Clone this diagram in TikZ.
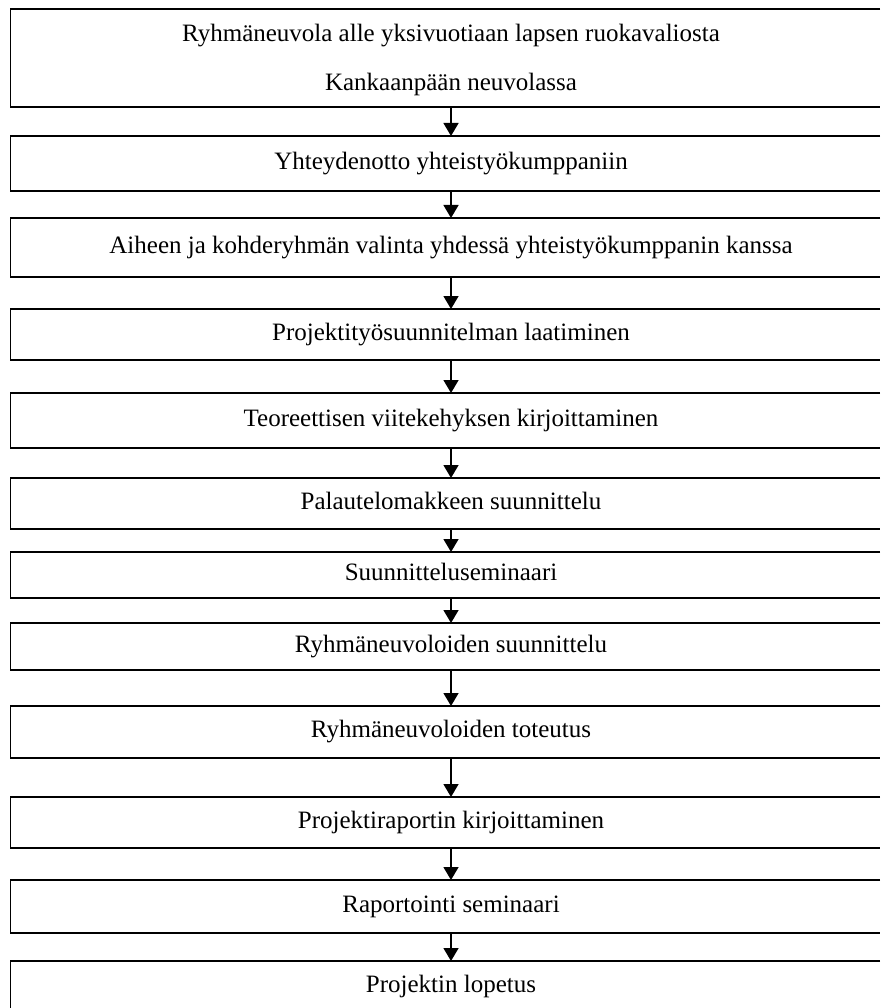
\documentclass[tikz,border=0pt]{standalone}
\usepackage{fontspec}
\setmainfont{Liberation Serif}
\usetikzlibrary{arrows.meta}
\begin{document}
\begin{tikzpicture}[x=1pt,y=-1pt,
  txt/.style={inner sep=0pt, outer sep=0pt, text height=16.5pt, text depth=5pt, font=\fontsize{25}{30}\selectfont},
  box/.style={txt, minimum width=881pt},
  edge/.style={draw=black, line width=1.5pt, line join=miter},
  arr/.style={line width=1.5pt, -{Triangle[length=13pt,width=15pt]}}]
\useasboundingbox (0,0) rectangle (880,1008);
\clip (0,0) rectangle (880,1008);
\coordinate (R) at (880,0);
\node[box, minimum height=98pt] (b1) at (451,58) {};
\node[txt] (t1a) at (451,36) {Ryhmäneuvola alle yksivuotiaan lapsen ruokavaliosta};
\node[txt] (t1b) at (451,84.5) {Kankaanpään neuvolassa};
\node[box, minimum height=55pt] (b2) at (451,163.5) {Yhteydenotto yhteistyökumppaniin};
\node[box, minimum height=59pt] (b3) at (451,247.5) {Aiheen ja kohderyhmän valinta yhdessä yhteistyökumppanin kanssa};
\node[box, minimum height=51pt] (b4) at (451,334.5) {Projektityösuunnitelman laatiminen};
\node[box, minimum height=55pt] (b5) at (451,420.5) {Teoreettisen viitekehyksen kirjoittaminen};
\node[box, minimum height=51pt] (b6) at (451,503.5) {Palautelomakkeen suunnittelu};
\node[box, minimum height=46pt] (b7) at (451,575) {Suunnitteluseminaari};
\node[box, minimum height=47pt] (b8) at (451,646.5) {Ryhmäneuvoloiden suunnittelu};
\node[box, minimum height=52pt] (b9) at (451,732) {Ryhmäneuvoloiden toteutus};
\node[box, minimum height=51pt] (b10) at (451,822.5) {Projektiraportin kirjoittaminen};
\node[box, minimum height=53pt] (b11) at (451,906.5) {Raportointi seminaari};
\node[box, minimum height=51pt] (b12) at (451,986.5) {Projektin lopetus};
\foreach \b in {b1,b2,b3,b4,b5,b6,b7,b8,b9,b10,b11,b12}
  \draw[edge] (\b.north -| R) -- (\b.north west) -- (\b.south west) -- (\b.south -| R);
\foreach \a/\b in {b1/b2,b2/b3,b3/b4,b4/b5,b5/b6,b6/b7,b7/b8,b8/b9,b9/b10,b10/b11,b11/b12}
  \draw[arr] (\a.south) -- (\b.north);
\end{tikzpicture}
\end{document}
